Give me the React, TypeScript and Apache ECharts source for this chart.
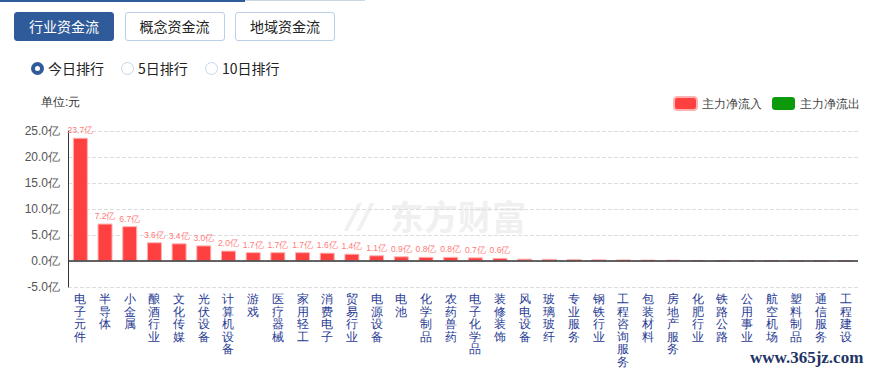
import React, { useEffect, useRef } from "react";
import * as echarts from "echarts";

const categories = [
  "电子元件", "半导体", "小金属", "酿酒行业", "文化传媒", "光伏设备", "计算机设备", "游戏",
  "医疗器械", "家用轻工", "消费电子", "贸易行业", "电源设备", "电池", "化学制品", "农药兽药",
  "电子化学品", "装修装饰", "风电设备", "玻璃玻纤", "专业服务", "钢铁行业", "工程咨询服务", "包装材料",
  "房地产服务", "化肥行业", "铁路公路", "公用事业", "航空机场", "塑料制品", "通信服务", "工程建设",
];
const inflow = [
  23.7, 7.2, 6.7, 3.6, 3.4, 3.0, 2.0, 1.7, 1.7, 1.7, 1.6, 1.4, 1.1, 0.9, 0.8, 0.8,
  0.7, 0.6, 0.45, 0.42, 0.38, 0.32, 0.3, 0.27, 0.25, 0.2, 0.15, 0.1, 0.08, 0.05, 0.03, 0.02,
];
const outflow: (number | string)[] = categories.map(() => "-");
const yTicks = { min: -5, max: 25, interval: 5 };
const tabs = ["行业资金流", "概念资金流", "地域资金流"];
const radios = ["今日排行", "5日排行", "10日排行"];

export default function App() {
  const ref = useRef<HTMLDivElement>(null);
  useEffect(() => {
    document.body.style.margin = "0";
    const chart = echarts.init(ref.current!, null, { renderer: "svg" });
    chart.setOption({
      animation: false,
      legend: {
        top: 91,
        right: 8,
        itemWidth: 23,
        itemHeight: 13,
        itemGap: 10,
        itemStyle: { borderRadius: 3 },
        textStyle: { fontSize: 12, color: "#444" },
        data: ["主力净流入", "主力净流出"],
      },
      graphic: [
        { type: "text", left: 41, top: 96, style: { text: "单位:元", fontSize: 12, fill: "#333" } },
        {
          type: "text", left: 347, top: 199, z: 0,
          style: { text: "//", fontSize: 34, fontWeight: "bold", fontStyle: "italic", fill: "#f0f0f0", fontFamily: "DejaVu Sans" },
        },
        {
          type: "text", left: 390, top: 198, z: 0,
          style: { text: "东方财富", fontSize: 34, fontWeight: "bold", fill: "#f0f0f0", fontFamily: "Noto Sans CJK SC" },
        },
        {
          type: "text", left: 750, top: 349,
          style: { text: "www.365jz.com", fontSize: 17, fontWeight: "bold", fill: "#1f3566", fontFamily: "Liberation Serif" },
        },
      ],
      grid: { left: 68, right: 15, top: 131, bottom: 86 },
      xAxis: {
        type: "category",
        data: categories,
        axisLine: { show: false },
        axisTick: { show: false },
        axisLabel: {
          interval: 0,
          margin: 6,
          fontSize: 11.5,
          lineHeight: 12.5,
          color: "#1f3a93",
          verticalAlign: "top",
          formatter: (v: string) => v.split("").join("\n"),
        },
      },
      yAxis: {
        type: "value",
        min: yTicks.min,
        max: yTicks.max,
        interval: yTicks.interval,
        axisLine: { show: true, lineStyle: { color: "#333" } },
        axisTick: { show: false },
        axisLabel: { fontSize: 12, color: "#555", formatter: (v: number) => v.toFixed(1) + "亿" },
        splitLine: { lineStyle: { type: "dashed", color: "#ddd" } },
      },
      series: [
        {
          name: "主力净流入",
          type: "bar",
          stack: "a",
          barWidth: 15,
          data: inflow,
          itemStyle: { color: "#ff4040", borderColor: "#ffb0b0", borderWidth: 1 },
          label: {
            show: true,
            position: "top",
            distance: 3,
            fontSize: 8.5,
            color: "#ff7a7a",
            formatter: (p: any) => (p.value >= 0.55 ? p.value.toFixed(1) + "亿" : ""),
          },
          markLine: {
            silent: true,
            symbol: "none",
            label: { show: false },
            lineStyle: { color: "#333", type: "solid", width: 1.5 },
            data: [{ yAxis: 0 }],
          },
        },
        {
          name: "主力净流出",
          type: "bar",
          stack: "a",
          barWidth: 15,
          data: outflow,
          itemStyle: { color: "#0a9a0a" },
        },
      ],
    });
    return () => chart.dispose();
  }, []);

  return (
    <div style={{ position: "relative", width: 873, height: 373, fontFamily: "'Noto Sans CJK SC', sans-serif", overflow: "hidden", background: "#fff" }}>
      <div style={{ position: "absolute", left: 0, top: 0, width: 245, height: 2, background: "#2f5b9a" }} />
      <div style={{ position: "absolute", left: 245, top: 0, width: 120, height: 1, background: "#ccd6e4" }} />
      {tabs.map((t, i) => (
        <div
          key={t}
          style={{
            position: "absolute", left: 14 + i * 110.5, top: 12, width: 100, height: 29,
            boxSizing: "border-box", borderRadius: 3,
            border: i === 0 ? "1px solid #2f5b9a" : "1px solid #b9d0e8",
            background: i === 0 ? "#2f5b9a" : "#fff",
            color: i === 0 ? "#fff" : "#222", fontSize: 14, lineHeight: "27px", textAlign: "center",
          }}
        >
          {t}
        </div>
      ))}
      {radios.map((r, i) => {
        const lefts = [31, 121, 205];
        return (
          <div key={r} style={{ position: "absolute", left: lefts[i], top: 58, height: 20, display: "flex", alignItems: "center", fontSize: 14, color: "#222" }}>
            <span
              style={{
                display: "inline-block", width: 13, height: 13, boxSizing: "border-box", borderRadius: "50%",
                border: i === 0 ? "4px solid #2f5b9a" : "1px solid #c5d6ea", background: "#fff", marginRight: 4,
              }}
            />
            {r}
          </div>
        );
      })}
      <div ref={ref} style={{ position: "absolute", left: 0, top: 0, width: 873, height: 373 }} />
    </div>
  );
}
